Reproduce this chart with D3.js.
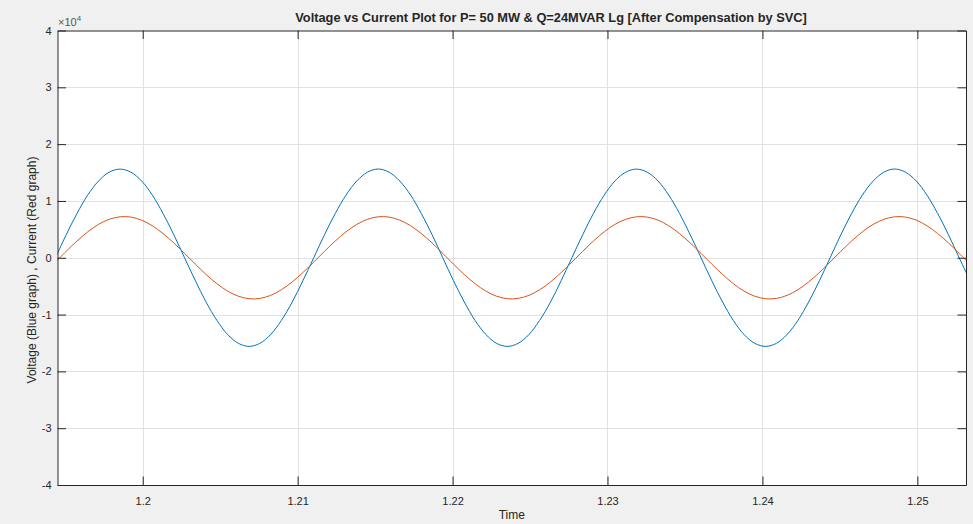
<!DOCTYPE html>
<html>
<head>
<meta charset="utf-8">
<script src="https://cdn.jsdelivr.net/npm/d3@7"></script>
<style>
  html, body { margin: 0; padding: 0; background: #f0f0f0; }
  svg { display: block; }
  text { font-family: "Liberation Sans", Arial, Helvetica, sans-serif; fill: #262626; }
</style>
</head>
<body>
<svg id="chart" width="973" height="524"></svg>
<script>
// ---- data ----
const titleText = "Voltage vs Current Plot for P= 50 MW & Q=24MVAR Lg [After Compensation by SVC]";
const xLabel = "Time";
const yLabel = "Voltage (Blue graph) , Current (Red graph)";
const xDomain = [1.1945, 1.25314];
const yDomain = [-40000, 40000];
const xTicks = [1.20, 1.21, 1.22, 1.23, 1.24, 1.25];
const xTickLabels = ["1.2", "1.21", "1.22", "1.23", "1.24", "1.25"];
const yTicks = [-40000, -30000, -20000, -10000, 0, 10000, 20000, 30000, 40000];
const yTickLabels = ["-4", "-3", "-2", "-1", "0", "1", "2", "3", "4"];

const time = [
  1.19437, 1.19506, 1.19576, 1.19645, 1.19715, 1.19784, 1.19854, 1.19923, 1.19993, 1.20062,
  1.20131, 1.20201, 1.20270, 1.20340, 1.20409, 1.20479, 1.20548, 1.20618, 1.20687, 1.20756,
  1.20826, 1.20895, 1.20965, 1.21034, 1.21104, 1.21173, 1.21243, 1.21312, 1.21382, 1.21451,
  1.21520, 1.21590, 1.21659, 1.21729, 1.21798, 1.21868, 1.21937, 1.22006, 1.22076, 1.22145,
  1.22215, 1.22284, 1.22354, 1.22423, 1.22493, 1.22562, 1.22632, 1.22701, 1.22770, 1.22840,
  1.22909, 1.22979, 1.23048, 1.23118, 1.23187, 1.23256, 1.23326, 1.23395, 1.23465, 1.23534,
  1.23604, 1.23673, 1.23743, 1.23812, 1.23881, 1.23951, 1.24020, 1.24090, 1.24159, 1.24229,
  1.24298, 1.24368, 1.24437, 1.24506, 1.24576, 1.24645, 1.24715, 1.24784, 1.24854, 1.24923,
  1.24993, 1.25062, 1.25131, 1.25201, 1.25270, 1.25340
];

const voltage = [
  0, 4040, 7800, 11030, 13510, 15070, 15600, 15070, 13510, 11030,
  7800, 4040, 0, -4040, -7800, -11030, -13510, -15070, -15600, -15070,
  -13510, -11030, -7800, -4040, 0, 4040, 7800, 11030, 13510, 15070,
  15620, 15070, 13510, 11030, 7800, 4040, 0, -4040, -7800, -11030,
  -13510, -15070, -15600, -15070, -13510, -11030, -7800, -4040, 0, 4040,
  7800, 11030, 13510, 15070, 15600, 15070, 13510, 11030, 7800, 4040,
  0, -4040, -7800, -11030, -13510, -15070, -15600, -15070, -13510, -11030,
  -7800, -4040, 0, 4040, 7800, 11030, 13510, 15070, 15620, 15070,
  13510, 11030, 7800, 4040, 0, -4040
];

const current = [
  -760, 1130, 2950, 4560, 5870, 6770, 7210, 7160, 6620, 5630,
  4260, 2600, 760, -1130, -2950, -4560, -5870, -6770, -7210, -7160,
  -6620, -5630, -4260, -2600, -760, 1130, 2950, 4560, 5870, 6770,
  7210, 7160, 6620, 5630, 4260, 2600, 760, -1130, -2950, -4560,
  -5870, -6770, -7210, -7160, -6620, -5630, -4260, -2600, -760, 1130,
  2950, 4560, 5870, 6770, 7210, 7160, 6620, 5630, 4260, 2600,
  760, -1130, -2950, -4560, -5870, -6770, -7210, -7160, -6620, -5630,
  -4260, -2600, -760, 1130, 2950, 4560, 5870, 6770, 7210, 7160,
  6620, 5630, 4260, 2600, 760, -1130
];

// ---- layout ----
const svg = d3.select("#chart");
const L = 57.5, R = 966, T = 30.5, B = 485;
const x = d3.scaleLinear().domain(xDomain).range([L, R]);
const y = d3.scaleLinear().domain(yDomain).range([B, T]);
const axisColor = "#262626";
const tickLen = 8.5;

svg.append("rect").attr("width", 973).attr("height", 524).attr("fill", "#f0f0f0");
svg.append("rect").attr("x", L).attr("y", T).attr("width", R - L).attr("height", B - T).attr("fill", "#ffffff");

// grid
const grid = svg.append("g").attr("stroke", "#e1e1e1").attr("stroke-width", 1);
grid.selectAll(".gx").data(xTicks).join("line")
  .attr("x1", d => Math.round(x(d)) + 0.5).attr("x2", d => Math.round(x(d)) + 0.5)
  .attr("y1", T).attr("y2", B);
grid.selectAll(".gy").data(yTicks.filter(v => v > yDomain[0] && v < yDomain[1])).join("line")
  .attr("y1", d => Math.round(y(d)) + 0.5).attr("y2", d => Math.round(y(d)) + 0.5)
  .attr("x1", L).attr("x2", R);

// clip
svg.append("clipPath").attr("id", "clip").append("rect")
  .attr("x", L).attr("y", T).attr("width", R - L).attr("height", B - T);

const pts = (vals) => time.map((t, i) => [t, vals[i]]);
const line = d3.line().x(d => x(d[0])).y(d => y(d[1])).curve(d3.curveCatmullRom.alpha(0.5));

const plot = svg.append("g").attr("clip-path", "url(#clip)");
plot.append("path").datum(pts(voltage)).attr("d", line)
  .attr("fill", "none").attr("stroke", "#0072BD").attr("stroke-width", 1);
plot.append("path").datum(pts(current)).attr("d", line)
  .attr("fill", "none").attr("stroke", "#D95319").attr("stroke-width", 1);

// axes (D3 axes, ticks inward)
const xAxisB = d3.axisBottom(x).tickValues(xTicks).tickSizeInner(-tickLen).tickSizeOuter(0)
  .tickPadding(12).tickFormat((d, i) => xTickLabels[i]);
const xAxisT = d3.axisTop(x).tickValues(xTicks).tickSizeInner(-tickLen).tickSizeOuter(0).tickFormat("");
const yAxisL = d3.axisLeft(y).tickValues(yTicks).tickSizeInner(-tickLen).tickSizeOuter(0)
  .tickPadding(6).tickFormat((d, i) => yTickLabels[i]);
const yAxisR = d3.axisRight(y).tickValues(yTicks).tickSizeInner(-tickLen).tickSizeOuter(0).tickFormat("");

function style(g) {
  g.select(".domain").attr("stroke", axisColor).attr("stroke-width", 1);
  g.selectAll(".tick line").attr("stroke", axisColor).attr("stroke-width", 1);
  g.selectAll(".tick text").attr("fill", axisColor).style("font-size", "11px")
    .style("font-family", '"Liberation Sans", Arial, sans-serif');
}
svg.append("g").attr("transform", `translate(0,${B})`).call(xAxisB).call(style);
svg.append("g").attr("transform", `translate(0,${T})`).call(xAxisT).call(style);
svg.append("g").attr("transform", `translate(${L},0)`).call(yAxisL).call(style);
svg.append("g").attr("transform", `translate(${R},0)`).call(yAxisR).call(style);

// exponent label
const ex = svg.append("text").attr("x", L + 0.5).attr("y", 26).style("font-size", "11px").style("fill", "#555");
ex.append("tspan").text("\u00d710");
ex.append("tspan").attr("dy", -5).style("font-size", "8px").text("4");

// title
svg.append("text").attr("x", 551).attr("y", 22).attr("text-anchor", "middle")
  .style("font-size", "12.8px").style("font-weight", "bold").text(titleText);

// x label
svg.append("text").attr("x", (L + R) / 2).attr("y", 519).attr("text-anchor", "middle")
  .style("font-size", "12px").text(xLabel);

// y label
svg.append("text").attr("transform", `translate(36,270) rotate(-90)`)
  .attr("text-anchor", "middle").style("font-size", "12px").text(yLabel);
</script>
</body>
</html>
